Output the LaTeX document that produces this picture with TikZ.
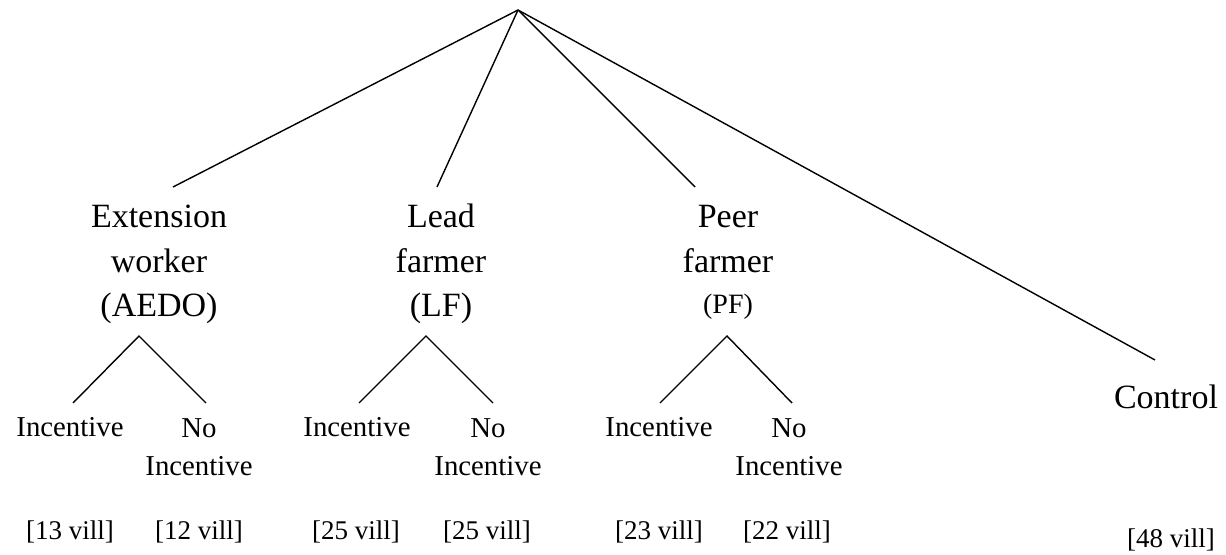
\documentclass[tikz,border=0pt]{standalone}
\usepackage{fontspec}
\setmainfont{Liberation Serif}
\usetikzlibrary{scopes}

\begin{document}
\begin{tikzpicture}[
    x=0.5pt,y=-0.5pt,
    branch/.style={draw=black,line width=0.7pt},
    head/.style={align=center,anchor=base,inner sep=0pt,font=\fontsize{17}{22.25}\selectfont},
    leaf/.style={align=center,anchor=base,inner sep=0pt,font=\fontsize{14.4}{19}\selectfont},
    vill/.style={anchor=base,inner sep=0pt,font=\fontsize{13.5}{16}\selectfont},
]
    \useasboundingbox (0,0) rectangle (1226,555);
    \coordinate (root) at (518,10);
    % ends of the arms
    \coordinate (aedo) at (173,187);
    \coordinate (lf) at (437,187);
    \coordinate (pf) at (695,187);
    \coordinate (ctl) at (1155,360);
    % small trees
    \coordinate (aedo2) at (139,336);
    \coordinate (aedo-i) at (73,403);
    \coordinate (aedo-n) at (206,403);
    \coordinate (lf2) at (426,336);
    \coordinate (lf-i) at (359,403);
    \coordinate (lf-n) at (493,403);
    \coordinate (pf2) at (727,336);
    \coordinate (pf-i) at (660,403);
    \coordinate (pf-n) at (792,403);

    % last baselines
    \node[head] (ext) at (159,317) {Extension\\worker\\(AEDO)};
    \node[head] (lead) at (441,317) {Lead\\farmer\\(LF)};
    \node[head] (peer) at (728,314) {Peer\\farmer\\[-1.5pt]{\fontsize{14}{16}\selectfont(PF)}};
    \node[head] (control) at (1166,409) {Control};

    \node[leaf] (ext-i) at (70,437) {Incentive};
    \node[leaf] (ext-n) at (199,475) {No\\Incentive};
    \node[leaf] (lead-i) at (357,437) {Incentive};
    \node[leaf] (lead-n) at (488,475) {No\\Incentive};
    \node[leaf] (peer-i) at (659,437) {Incentive};
    \node[leaf] (peer-n) at (789,475) {No\\Incentive};

    \node[vill] (ext-iv) at (70,539) {[13 vill]};
    \node[vill] (ext-nv) at (199,539) {[12 vill]};
    \node[vill] (lead-iv) at (356,539) {[25 vill]};
    \node[vill] (lead-nv) at (487,539) {[25 vill]};
    \node[vill] (peer-iv) at (659,539) {[23 vill]};
    \node[vill] (peer-nv) at (787,539) {[22 vill]};
    \node[vill] (control-v) at (1171,547) {[48 vill]};

    {[branch]
        \draw (root) -- (aedo);
        \draw (root) -- (lf);
        \draw (root) -- (pf);
        \draw (root) -- (ctl);
    }
    {[branch]
        \draw (aedo-i) -- (aedo2) -- (aedo-n);
        \draw (lf-i) -- (lf2) -- (lf-n);
        \draw (pf-i) -- (pf2) -- (pf-n);
    }
\end{tikzpicture}
\end{document}
